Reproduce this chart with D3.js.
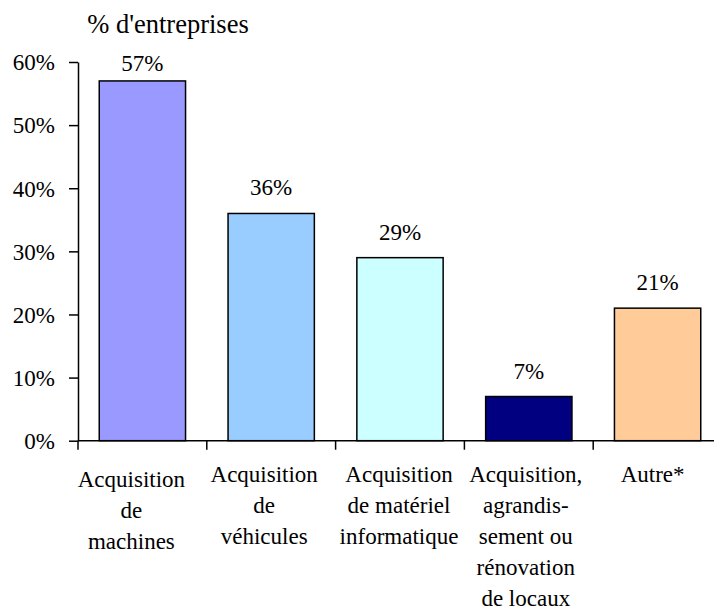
<!DOCTYPE html>
<html>
<head>
<meta charset="utf-8">
<script src="https://cdn.jsdelivr.net/npm/d3@7"></script>
</head>
<body style="margin:0">
<svg id="chart" width="714" height="610"></svg>
<script>
// Share of firms by type of investment
const categories = [
  ["Acquisition", "de", "machines"],
  ["Acquisition", "de", "véhicules"],
  ["Acquisition", "de matériel", "informatique"],
  ["Acquisition,", "agrandis-", "sement ou", "rénovation", "de locaux"],
  ["Autre*"]
];
const values = [57, 36, 29, 7, 21];
const colors = ["#9999FF", "#99CCFF", "#CCFFFF", "#000080", "#FFCC99"];
const yTicks = [0, 10, 20, 30, 40, 50, 60];
const yTitle = "% d'entreprises";

const FONT = "'Liberation Serif'";
const svg = d3.select("#chart");
const plotLeft = 78, plotRight = 722, plotTop = 62, plotBottom = 440.7;
const fontSize = 23;

const x = d3.scaleBand()
  .domain(d3.range(categories.length))
  .range([plotLeft, plotRight])
  .paddingInner(0.33)
  .paddingOuter(0.165);

const y = d3.scaleLinear().domain([0, 60]).range([plotBottom, plotTop]);

// bars
svg.append("g").selectAll("rect")
  .data(values)
  .join("rect")
  .attr("x", (d, i) => x(i))
  .attr("width", x.bandwidth())
  .attr("y", d => y(d))
  .attr("height", d => y(0) - y(d))
  .attr("fill", (d, i) => colors[i])
  .attr("stroke", "#000")
  .attr("stroke-width", 1.5);

// y axis
const yAxis = svg.append("g")
  .attr("transform", `translate(${plotLeft},0)`)
  .call(d3.axisLeft(y).tickValues(yTicks).tickFormat(d => d + "%").tickSize(9).tickPadding(14).tickSizeOuter(0));
yAxis.attr("font-family", null).attr("font-size", null);
yAxis.select(".domain").attr("stroke-width", 1.5);
yAxis.selectAll(".tick line").attr("stroke-width", 1.5);
yAxis.selectAll(".tick text")
  .attr("font-family", FONT)
  .attr("font-size", fontSize)
  .attr("fill", "#000")
  .attr("dy", "0.34em");

// x axis: line with ticks on category boundaries
const step = x.step();
const bounds = d3.range(categories.length + 1).map(i => plotLeft + i * step);
const xg = svg.append("g");
xg.append("line")
  .attr("x1", plotLeft).attr("x2", 714)
  .attr("y1", y(0)).attr("y2", y(0))
  .attr("stroke", "#000").attr("stroke-width", 1.5);
xg.selectAll("line.tk")
  .data(bounds)
  .join("line")
  .attr("class", "tk")
  .attr("x1", d => d).attr("x2", d => d)
  .attr("y1", y(0)).attr("y2", y(0) + 9)
  .attr("stroke", "#000").attr("stroke-width", 1.5);

// category labels: one text per line, centred on the block
const labelShift = [-11, -7, -1, -3, -5];
const labelDrop = [5, 0, 0, 0, 0];
const lineGap = 31;
const catLines = categories.flatMap((lines, i) =>
  lines.map((t, j) => ({ t, i, j })));
xg.selectAll("text.cat")
  .data(catLines)
  .join("text")
  .attr("class", "cat")
  .attr("font-family", FONT)
  .attr("font-size", fontSize)
  .attr("text-anchor", "middle")
  .attr("x", d => x(d.i) + x.bandwidth() / 2 + labelShift[d.i])
  .attr("y", d => 481.5 + labelDrop[d.i] + d.j * lineGap)
  .text(d => d.t);

// value labels
svg.append("g").selectAll("text")
  .data(values)
  .join("text")
  .attr("font-family", FONT)
  .attr("font-size", fontSize)
  .attr("text-anchor", "middle")
  .attr("x", (d, i) => x(i) + x.bandwidth() / 2)
  .attr("y", d => Math.max(y(d) - 18, 70.5))
  .text(d => d + "%");

// axis title
svg.append("text")
  .attr("font-family", FONT)
  .attr("font-size", 26.5)
  .attr("text-anchor", "middle")
  .attr("x", 168)
  .attr("y", 33)
  .text(yTitle);
</script>
</body>
</html>
